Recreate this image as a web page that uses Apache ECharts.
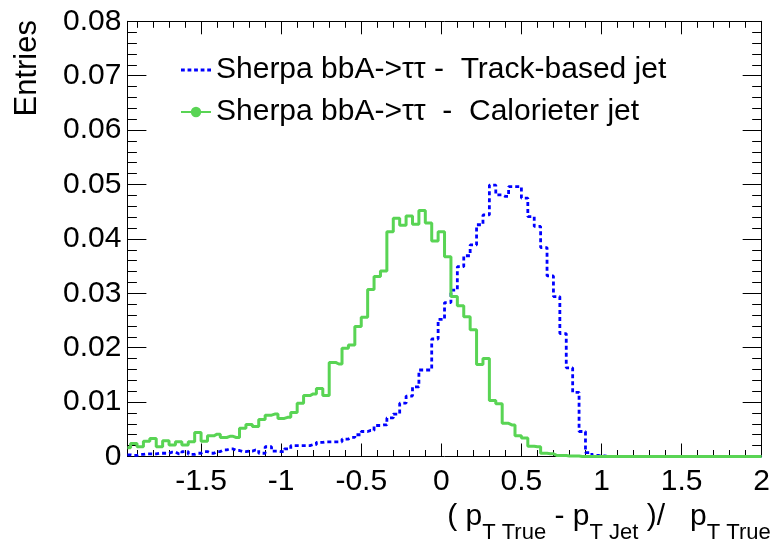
<!DOCTYPE html>
<html>
<head>
<meta charset="utf-8">
<script src="https://cdn.jsdelivr.net/npm/echarts@6/dist/echarts.min.js"></script>
<style>
  html, body { margin: 0; padding: 0; background: #fff; }
  #chart { width: 773px; height: 545px; }
</style>
</head>
<body>
<div id="chart"></div>
<script>
// Histogram binning: 100 bins of width 0.04, first bin centred at -1.96
const binCenterStart = -1.96;
const binWidth = 0.04;

// Sherpa bbA->tautau - Track-based jet (blue dotted)
const trackJet = [
  0.0003, 0.0002, 0.0004, 0.0005, 0.0005, 0.0006, 0.0006, 0.0008, 0.0005, 0.0009,
  0.0004, 0.0006, 0.0009, 0.0006, 0.0009, 0.0012, 0.0014, 0.0011, 0.0009, 0.0010,
  0.0012, 0.0006, 0.0018, 0.0010, 0.0009, 0.0014, 0.0020, 0.0020, 0.0020, 0.0022,
  0.0026, 0.0027, 0.0027, 0.0027, 0.0032, 0.0035, 0.0040, 0.0046, 0.0048, 0.0057,
  0.0058, 0.0071, 0.0078, 0.0098, 0.0111, 0.0128, 0.0159, 0.0159, 0.0216, 0.0252,
  0.0283, 0.0306, 0.0349, 0.0369, 0.0389, 0.0426, 0.0444, 0.0499, 0.0481, 0.0478,
  0.0496, 0.0496, 0.0475, 0.0441, 0.0423, 0.0384, 0.0332, 0.0294, 0.0226, 0.0163,
  0.0118, 0.0046, 0.0007, 0.0002, 0.0001, 0, 0, 0, 0, 0,
  0, 0, 0, 0, 0, 0, 0, 0, 0, 0,
  0, 0, 0, 0, 0, 0, 0, 0, 0, 0
];

// Sherpa bbA->tautau - Calorimeter jet (green solid)
const caloJet = [
  0.0016, 0.0024, 0.0018, 0.0028, 0.0033, 0.0018, 0.0029, 0.0021, 0.0027, 0.0021,
  0.0027, 0.0044, 0.0028, 0.0038, 0.0041, 0.0035, 0.0037, 0.0035, 0.0052, 0.0059,
  0.0055, 0.0068, 0.0076, 0.0078, 0.0070, 0.0072, 0.0081, 0.0098, 0.0112, 0.0115,
  0.0125, 0.0112, 0.0173, 0.0170, 0.0199, 0.0205, 0.0239, 0.0256, 0.0307, 0.0331,
  0.0341, 0.0413, 0.0438, 0.0425, 0.0442, 0.0427, 0.0452, 0.0429, 0.0396, 0.0413,
  0.0367, 0.0294, 0.0277, 0.0257, 0.0233, 0.0169, 0.0180, 0.0103, 0.0097, 0.0061,
  0.0058, 0.0038, 0.0034, 0.0019, 0.0018, 0.0006, 0.0005, 0.0002, 0.0002, 0.0001,
  0.0001, 0, 0, 0, 0, 0, 0, 0, 0, 0,
  0, 0, 0, 0, 0, 0, 0, 0, 0, 0,
  0, 0, 0, 0, 0, 0, 0, 0, 0, 0
];

const seriesNames = [
  'Sherpa bbA->\u03c4\u03c4 -  Track-based jet',
  'Sherpa bbA->\u03c4\u03c4  -  Calorieter jet'
];

function toPairs(vals) {
  return vals.map((v, i) => [Number((binCenterStart + i * binWidth).toFixed(2)), v]);
}

const FONT = 'Liberation Sans, Arial, Helvetica, sans-serif';

const xAxisCommon = {
  type: 'value', min: -1.96, max: 2, splitNumber: 8,
  axisLine: { show: true, onZero: false, lineStyle: { color: '#000', width: 1 } },
  axisTick: { show: true, inside: true, length: 13, lineStyle: { color: '#000', width: 1 } },
  minorTick: { show: true, splitNumber: 5, length: 6.5, lineStyle: { color: '#000', width: 1 } },
  splitLine: { show: false }, minorSplitLine: { show: false }
};
const yAxisCommon = {
  type: 'value', min: 0, max: 0.08, interval: 0.01,
  axisLine: { show: true, onZero: false, lineStyle: { color: '#000', width: 1 } },
  axisTick: { show: true, inside: true, length: 19, lineStyle: { color: '#000', width: 1 } },
  minorTick: { show: true, splitNumber: 5, length: 9.5, lineStyle: { color: '#000', width: 1 } },
  splitLine: { show: false }, minorSplitLine: { show: false }
};

const chart = echarts.init(document.getElementById('chart'), null, { renderer: 'canvas' });
chart.setOption({
  animation: false,
  backgroundColor: '#fff',
  grid: { left: 127.4, right: 5.3, top: 21.3, bottom: 88.5, containLabel: false },
  xAxis: [
    Object.assign({}, xAxisCommon, {
      position: 'bottom',
      axisLabel: { show: true, margin: 10, fontSize: 30, fontFamily: FONT, color: '#000',
                   showMinLabel: false, showMaxLabel: true, hideOverlap: false }
    }),
    Object.assign({}, xAxisCommon, { position: 'top', axisLabel: { show: false } })
  ],
  yAxis: [
    Object.assign({}, yAxisCommon, {
      position: 'left',
      axisLabel: { show: true, margin: 6, fontSize: 30, fontFamily: FONT, color: '#000',
                   showMinLabel: true, showMaxLabel: true, hideOverlap: false }
    }),
    Object.assign({}, yAxisCommon, { position: 'right', axisLabel: { show: false } })
  ],
  legend: {
    show: true, orient: 'vertical', left: 175, top: 50,
    itemWidth: 30, itemHeight: 13, itemGap: 12, symbolKeepAspect: true,
    textStyle: { fontSize: 30, fontFamily: FONT, color: '#000' },
    selectedMode: false,
    data: [
      { name: seriesNames[0], icon: 'path://M0,0h4v3h-4z M7,0h4v3h-4z M14,0h4v3h-4z M21,0h4v3h-4z M28,0h4v3h-4z' },
      { name: seriesNames[1] }
    ]
  },
  graphic: [
    {
      type: 'text', x: 27, y: 20, rotation: Math.PI / 2,
      style: { text: 'Entries', font: '31px ' + FONT, fill: '#000', align: 'right', verticalAlign: 'middle' }
    },
    {
      type: 'text', x: 771, y: 502,
      style: {
        text: '{m|( p}{s|T True}{m| - p}{s|T Jet}{m| )/   p}{s|T True}{h| }',
        align: 'right', verticalAlign: 'top', fill: '#000',
        rich: {
          m: { fontSize: 30, lineHeight: 30, fontFamily: FONT, verticalAlign: 'top', fill: '#000' },
          s: { fontSize: 22, lineHeight: 22, fontFamily: FONT, verticalAlign: 'bottom', fill: '#000' },
          h: { fontSize: 1, lineHeight: 42, fontFamily: FONT, verticalAlign: 'bottom', fill: '#fff' }
        }
      }
    }
  ],
  series: [
    {
      name: seriesNames[0], type: 'line', step: 'middle', xAxisIndex: 0, yAxisIndex: 0,
      data: toPairs(trackJet), symbol: 'none', clip: false,
      itemStyle: { color: '#0000ff' },
      lineStyle: { color: '#0000ff', width: 2.8, type: [4, 3] }
    },
    {
      name: seriesNames[1], type: 'line', step: 'middle', xAxisIndex: 0, yAxisIndex: 0,
      data: toPairs(caloJet), symbol: 'circle', showSymbol: false, symbolSize: 11, clip: false,
      itemStyle: { color: '#59d454' },
      lineStyle: { color: '#59d454', width: 3 }
    }
  ]
});
</script>
</body>
</html>
